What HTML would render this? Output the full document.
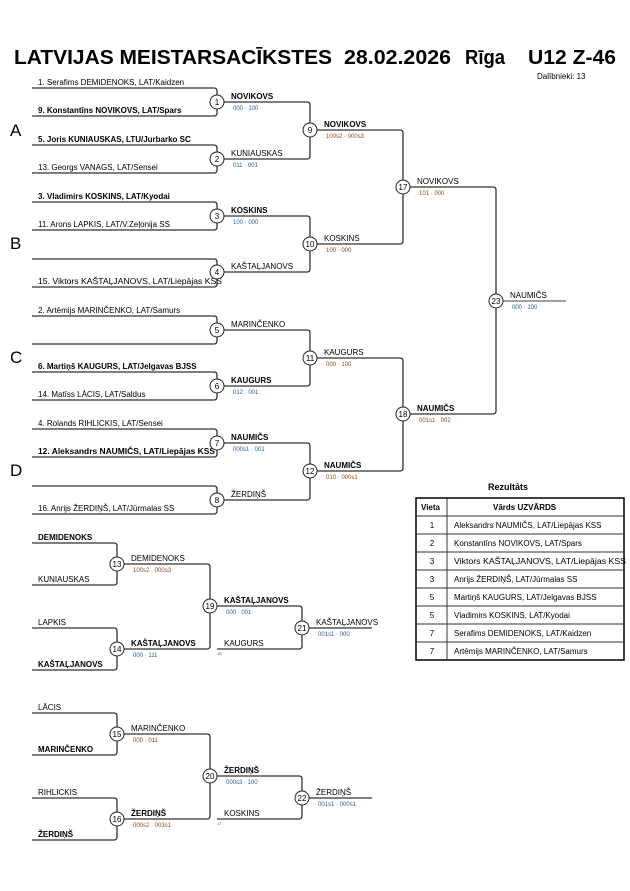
<!DOCTYPE html>
<html><head><meta charset="utf-8"><style>
html,body{margin:0;padding:0;background:#fff}
svg{display:block}
text{font-family:"Liberation Sans",Arial,sans-serif;fill:#000}
.n{font-size:8px}
.b{font-weight:bold}
.s{font-size:6px}
.bl{fill:#2a5c9a}
.br{fill:#8a4a1a}
.c{font-size:8px;text-anchor:middle}
.t{font-size:20px;font-weight:bold}
path{fill:none;stroke:#333;stroke-width:1.3}
circle{fill:#fff;stroke:#222;stroke-width:1}
.L{font-size:17px}
</style></head><body>
<svg width="630" height="891" viewBox="0 0 630 891" xmlns="http://www.w3.org/2000/svg">
<text x="14" y="64" class="t" textLength="318" lengthAdjust="spacingAndGlyphs">LATVIJAS MEISTARSACĪKSTES</text>
<text x="344" y="64" class="t" textLength="107" lengthAdjust="spacingAndGlyphs">28.02.2026</text>
<text x="465" y="64" class="t" textLength="40" lengthAdjust="spacingAndGlyphs">Rīga</text>
<text x="528" y="64" class="t" textLength="88" lengthAdjust="spacingAndGlyphs">U12 Z-46</text>
<text x="537" y="79" style="font-size:8px">Dalībnieki: 13</text>

<text x="10" y="136" class="L">A</text>
<text x="10" y="249" class="L">B</text>
<text x="10" y="363" class="L">C</text>
<text x="10" y="476" class="L">D</text>

<path d="M32 88 H214 Q217 88 217 91 V113 Q217 116 214 116 H32"/>
<path d="M32 145 H214 Q217 145 217 148 V170 Q217 173 214 173 H32"/>
<path d="M32 202 H214 Q217 202 217 205 V227 Q217 230 214 230 H32"/>
<path d="M32 259 H214 Q217 259 217 262 V284 Q217 287 214 287 H32"/>
<path d="M32 316 H214 Q217 316 217 319 V341 Q217 344 214 344 H32"/>
<path d="M32 372 H214 Q217 372 217 375 V397 Q217 400 214 400 H32"/>
<path d="M32 429 H214 Q217 429 217 432 V454 Q217 457 214 457 H32"/>
<path d="M32 486 H214 Q217 486 217 489 V511 Q217 514 214 514 H32"/>

<text x="38" y="85" class="n">1. Serafims DEMIDENOKS, LAT/Kaidzen</text>
<text x="38" y="113" class="n b">9. Konstantīns NOVIKOVS, LAT/Spars</text>
<text x="38" y="142" class="n b">5. Joris KUNIAUSKAS, LTU/Jurbarko SC</text>
<text x="38" y="170" class="n">13. Georgs VANAGS, LAT/Sensei</text>
<text x="38" y="199" class="n b">3. Vladimirs KOSKINS, LAT/Kyodai</text>
<text x="38" y="227" class="n">11. Arons LAPKIS, LAT/V.Zeļonija SS</text>
<text x="38" y="284" class="n" textLength="184" lengthAdjust="spacingAndGlyphs">15. Viktors KAŠTAĻJANOVS, LAT/Liepājas KSS</text>
<text x="38" y="313" class="n">2. Artēmijs MARINČENKO, LAT/Samurs</text>
<text x="38" y="369" class="n b">6. Martiņš KAUGURS, LAT/Jelgavas BJSS</text>
<text x="38" y="397" class="n">14. Matīss LĀCIS, LAT/Saldus</text>
<text x="38" y="426" class="n">4. Rolands RIHLICKIS, LAT/Sensei</text>
<text x="38" y="454" class="n b" textLength="177" lengthAdjust="spacingAndGlyphs">12. Aleksandrs NAUMIČS, LAT/Liepājas KSS</text>
<text x="38" y="511" class="n">16. Anrijs ŽERDIŅŠ, LAT/Jūrmalas SS</text>

<path d="M224 102 H307 Q310 102 310 105 V156 Q310 159 307 159 H224"/>
<path d="M224 216 H307 Q310 216 310 219 V269 Q310 272 307 272 H224"/>
<path d="M224 330 H307 Q310 330 310 333 V383 Q310 386 307 386 H224"/>
<path d="M224 443 H307 Q310 443 310 446 V497 Q310 500 307 500 H224"/>

<text x="231" y="99" class="n b">NOVIKOVS</text><text x="233" y="110" class="s bl">000 · 100</text>
<text x="231" y="156" class="n">KUNIAUSKAS</text><text x="233" y="167" class="s bl">011 · 001</text>
<text x="231" y="213" class="n b">KOSKINS</text><text x="233" y="224" class="s bl">100 · 000</text>
<text x="231" y="269" class="n">KAŠTAĻJANOVS</text>
<text x="231" y="327" class="n">MARINČENKO</text>
<text x="231" y="383" class="n b">KAUGURS</text><text x="233" y="394" class="s bl">012 · 001</text>
<text x="231" y="440" class="n b">NAUMIČS</text><text x="233" y="451" class="s bl">000s1 · 001</text>
<text x="231" y="497" class="n">ŽERDIŅŠ</text>

<path d="M317 130 H400 Q403 130 403 133 V241 Q403 244 400 244 H317"/>
<path d="M317 358 H400 Q403 358 403 361 V468 Q403 471 400 471 H317"/>
<text x="324" y="127" class="n b">NOVIKOVS</text><text x="326" y="138" class="s br">100s2 · 000s3</text>
<text x="324" y="241" class="n">KOSKINS</text><text x="326" y="252" class="s br">100 · 000</text>
<text x="324" y="355" class="n">KAUGURS</text><text x="326" y="366" class="s br">000 · 100</text>
<text x="324" y="468" class="n b">NAUMIČS</text><text x="326" y="479" class="s br">010 · 000s1</text>

<path d="M410 187 H493 Q496 187 496 190 V411 Q496 414 493 414 H410"/>
<text x="417" y="184" class="n">NOVIKOVS</text><text x="419" y="195" class="s br">101 · 000</text>
<text x="417" y="411" class="n b">NAUMIČS</text><text x="419" y="422" class="s br">001s1 · 002</text>
<path d="M503 301 H566" style="stroke:#666"/>
<text x="510" y="298" class="n">NAUMIČS</text><text x="512" y="309" class="s bl">000 · 100</text>

<g>
<circle cx="217" cy="102" r="7"/><text x="217" y="105" class="c">1</text>
<circle cx="217" cy="159" r="7"/><text x="217" y="162" class="c">2</text>
<circle cx="217" cy="216" r="7"/><text x="217" y="219" class="c">3</text>
<circle cx="217" cy="272" r="7"/><text x="217" y="275" class="c">4</text>
<circle cx="217" cy="330" r="7"/><text x="217" y="333" class="c">5</text>
<circle cx="217" cy="386" r="7"/><text x="217" y="389" class="c">6</text>
<circle cx="217" cy="443" r="7"/><text x="217" y="446" class="c">7</text>
<circle cx="217" cy="500" r="7"/><text x="217" y="503" class="c">8</text>
<circle cx="310" cy="130" r="7"/><text x="310" y="133" class="c">9</text>
<circle cx="310" cy="244" r="7"/><text x="310" y="247" class="c">10</text>
<circle cx="310" cy="358" r="7"/><text x="310" y="361" class="c">11</text>
<circle cx="310" cy="471" r="7"/><text x="310" y="474" class="c">12</text>
<circle cx="403" cy="187" r="7"/><text x="403" y="190" class="c">17</text>
<circle cx="403" cy="414" r="7"/><text x="403" y="417" class="c">18</text>
<circle cx="496" cy="301" r="7"/><text x="496" y="304" class="c">23</text>
</g>

<path d="M32 543 H114 Q117 543 117 546 V582 Q117 585 114 585 H32"/>
<path d="M32 628 H114 Q117 628 117 631 V667 Q117 670 114 670 H32"/>
<text x="38" y="540" class="n b">DEMIDENOKS</text>
<text x="38" y="582" class="n">KUNIAUSKAS</text>
<text x="38" y="625" class="n">LAPKIS</text>
<text x="38" y="667" class="n b">KAŠTAĻJANOVS</text>
<path d="M124 564 H207 Q210 564 210 567 V646 Q210 649 207 649 H124"/>
<text x="131" y="561" class="n">DEMIDENOKS</text><text x="133" y="572" class="s br">100s2 · 000s3</text>
<text x="131" y="646" class="n b">KAŠTAĻJANOVS</text><text x="133" y="657" class="s bl">000 · 111</text>
<path d="M217 606 H299 Q302 606 302 609 V646 Q302 649 299 649 H217"/>
<text x="224" y="603" class="n b">KAŠTAĻJANOVS</text><text x="226" y="614" class="s bl">000 · 001</text>
<text x="224" y="646" class="n">KAUGURS</text><text x="217" y="655" style="font-size:4px;fill:#555">18</text>
<path d="M309 628 H372"/>
<text x="316" y="625" class="n">KAŠTAĻJANOVS</text><text x="318" y="636" class="s bl">001s1 · 000</text>
<circle cx="117" cy="564" r="7"/><text x="117" y="567" class="c">13</text>
<circle cx="117" cy="649" r="7"/><text x="117" y="652" class="c">14</text>
<circle cx="210" cy="606" r="7"/><text x="210" y="609" class="c">19</text>
<circle cx="302" cy="628" r="7"/><text x="302" y="631" class="c">21</text>

<path d="M32 713 H114 Q117 713 117 716 V752 Q117 755 114 755 H32"/>
<path d="M32 798 H114 Q117 798 117 801 V837 Q117 840 114 840 H32"/>
<text x="38" y="710" class="n">LĀCIS</text>
<text x="38" y="752" class="n b">MARINČENKO</text>
<text x="38" y="795" class="n">RIHLICKIS</text>
<text x="38" y="837" class="n b">ŽERDIŅŠ</text>
<path d="M124 734 H207 Q210 734 210 737 V816 Q210 819 207 819 H124"/>
<text x="131" y="731" class="n">MARINČENKO</text><text x="133" y="742" class="s br">000 · 011</text>
<text x="131" y="816" class="n b">ŽERDIŅŠ</text><text x="133" y="827" class="s br">000s2 · 003s1</text>
<path d="M217 776 H299 Q302 776 302 779 V816 Q302 819 299 819 H217"/>
<text x="224" y="773" class="n b">ŽERDIŅŠ</text><text x="226" y="784" class="s bl">000s3 · 100</text>
<text x="224" y="816" class="n">KOSKINS</text><text x="217" y="825" style="font-size:4px;fill:#555">17</text>
<path d="M309 798 H372"/>
<text x="316" y="795" class="n">ŽERDIŅŠ</text><text x="318" y="806" class="s bl">001s1 · 000s1</text>
<circle cx="117" cy="734" r="7"/><text x="117" y="737" class="c">15</text>
<circle cx="117" cy="819" r="7"/><text x="117" y="822" class="c">16</text>
<circle cx="210" cy="776" r="7"/><text x="210" y="779" class="c">20</text>
<circle cx="302" cy="798" r="7"/><text x="302" y="801" class="c">22</text>

<text x="488" y="490" class="b" style="font-size:9px">Rezultāts</text>
<rect x="416" y="498" width="208" height="162" style="fill:none;stroke:#000;stroke-width:1.5"/>
<g style="stroke:#333;stroke-width:1">
<line x1="447" y1="498" x2="447" y2="660"/>
<line x1="416" y1="516" x2="624" y2="516"/>
<line x1="416" y1="534" x2="624" y2="534"/>
<line x1="416" y1="552" x2="624" y2="552"/>
<line x1="416" y1="570" x2="624" y2="570"/>
<line x1="416" y1="588" x2="624" y2="588"/>
<line x1="416" y1="606" x2="624" y2="606"/>
<line x1="416" y1="624" x2="624" y2="624"/>
<line x1="416" y1="642" x2="624" y2="642"/>
</g>
<text x="421" y="510" class="n b">Vieta</text>
<text x="493" y="510" class="n b">Vārds UZVĀRDS</text>
<g class="n">
<text x="432" y="528" class="c">1</text><text x="454" y="528" class="n">Aleksandrs NAUMIČS, LAT/Liepājas KSS</text>
<text x="432" y="546" class="c">2</text><text x="454" y="546" class="n">Konstantīns NOVIKOVS, LAT/Spars</text>
<text x="432" y="564" class="c">3</text><text x="454" y="564" class="n" textLength="172" lengthAdjust="spacingAndGlyphs">Viktors KAŠTAĻJANOVS, LAT/Liepājas KSS</text>
<text x="432" y="582" class="c">3</text><text x="454" y="582" class="n">Anrijs ŽERDIŅŠ, LAT/Jūrmalas SS</text>
<text x="432" y="600" class="c">5</text><text x="454" y="600" class="n">Martiņš KAUGURS, LAT/Jelgavas BJSS</text>
<text x="432" y="618" class="c">5</text><text x="454" y="618" class="n">Vladimirs KOSKINS, LAT/Kyodai</text>
<text x="432" y="636" class="c">7</text><text x="454" y="636" class="n">Serafims DEMIDENOKS, LAT/Kaidzen</text>
<text x="432" y="654" class="c">7</text><text x="454" y="654" class="n">Artēmijs MARINČENKO, LAT/Samurs</text>
</g>
</svg>
</body></html>
